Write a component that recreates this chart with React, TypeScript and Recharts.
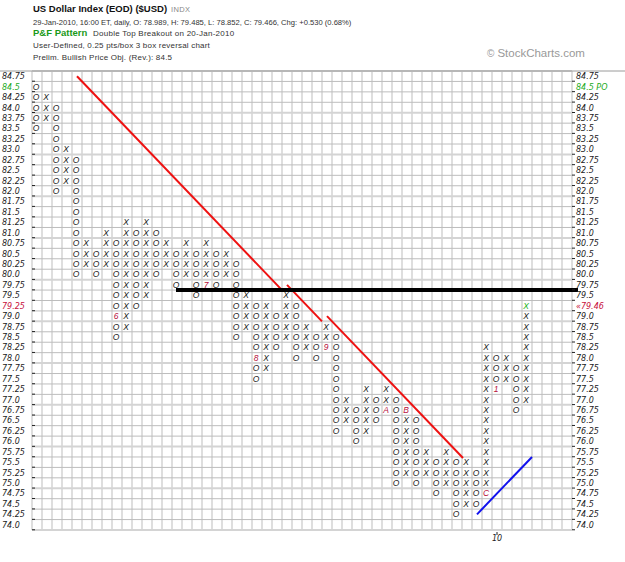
import { ScatterChart, Scatter, XAxis, YAxis, ReferenceLine } from "recharts"

// P&F columns, left to right (0.25 pts/box, 3 box reversal)
const colTypes = "OXOXOXOXOXOXOXOXOXOXOXOXOXOXOXOXOXOXOXOXOXOXOXOXOX".split("")
const colLows = [
  83.5, 83.75, 82.0, 82.25, 80.0, 80.25, 80.0, 80.25, 78.5, 78.75,
  79.25, 79.5, 80.0, 80.25, 79.75, 80.0, 79.5, 79.75, 79.75, 80.0,
  78.5, 78.75, 77.5, 77.75, 78.25, 78.5, 78.0, 78.25, 78.0, 78.25,
  76.25, 76.5, 76.0, 76.25, 76.5, 76.75, 75.0, 75.25, 75.0, 75.25,
  74.75, 75.0, 74.25, 74.5, 74.5, 74.75, 77.25, 77.5, 76.75, 77.0,
]
const colHighs = [
  84.5, 84.25, 84.0, 83.0, 82.75, 80.75, 80.5, 81.0, 80.75, 81.25,
  81.0, 81.25, 81.0, 80.75, 80.5, 80.75, 80.5, 80.75, 80.5, 80.5,
  80.25, 79.5, 79.25, 79.25, 79.0, 79.5, 79.25, 78.75, 78.5, 78.75,
  78.5, 77.0, 76.75, 77.25, 77.0, 77.25, 77.0, 76.75, 76.5, 75.75,
  75.5, 75.75, 75.5, 75.5, 75.25, 78.25, 78.0, 78.0, 77.75, 79.25,
]

// month markers (1..9, A, B, C) that replace a box
const markerCols = [8, 17, 22, 29, 35, 37, 45, 46]
const markerPrices = [79.0, 79.75, 78.0, 78.25, 76.75, 76.75, 74.75, 77.25]
const markerLabels = ["6", "7", "8", "9", "A", "B", "C", "1"]

// latest box (shown in green)
const lastCol = 49
const lastPrice = 79.25

const priceTicks = [
  74.0, 74.25, 74.5, 74.75, 75.0, 75.25, 75.5, 75.75, 76.0, 76.25, 76.5,
  76.75, 77.0, 77.25, 77.5, 77.75, 78.0, 78.25, 78.5, 78.75, 79.0, 79.25,
  79.5, 79.75, 80.0, 80.25, 80.5, 80.75, 81.0, 81.25, 81.5, 81.75, 82.0,
  82.25, 82.5, 82.75, 83.0, 83.25, 83.5, 83.75, 84.0, 84.25, 84.5, 84.75,
]
const yearCols = [46]
const yearLabels = ["10"]

const priceObjective = 84.5
const lastCloseRow = 79.25
const lastClose = "79.46"

// trend lines: [col, price] end points
const redLines = [
  [[4, 84.75], [24.5, 79.625]],
  [[25, 79.75], [28.5, 78.875]],
  [[29, 79.0], [42.6, 75.6]],
]
const blueLine = [[44, 74.25], [49.5, 75.625]]
const breakoutLine = { from: 13.9, to: 54.1, price: 79.625 }

const BOX = 0.25
const NCOLS = 54
const PMIN = 73.875
const PMAX = 84.875

const boxes: { x: number; y: number; s: string; c: string }[] = []
colTypes.forEach((t, i) => {
  const n = Math.round((colHighs[i] - colLows[i]) / BOX)
  for (let k = 0; k <= n; k++) {
    const p = colLows[i] + k * BOX
    const m = markerCols.findIndex((c, j) => c === i && markerPrices[j] === p)
    let s = t
    let c = "#222"
    if (m >= 0) {
      s = markerLabels[m]
      c = "#b8103c"
    } else if (i === lastCol && p === lastPrice) {
      c = "#22b422"
    }
    boxes.push({ x: i, y: p, s, c })
  }
})

const fmt = (v: number) => (Math.round(v * 4) % 2 === 0 ? v.toFixed(1) : v.toFixed(2))

const vGrid = Array.from({ length: NCOLS + 1 }, (_, i) => i - 0.5)
const hGrid = Array.from({ length: 45 }, (_, i) => PMIN + i * BOX)

// draws the price label on both sides of the grid
const PriceTick = (props: any) => {
  const { y, payload } = props
  const v = payload.value
  let fill = "#222"
  let right = fmt(v)
  if (v === priceObjective) {
    fill = "#22aa22"
    right = fmt(v) + " PO"
  }
  if (v === lastCloseRow) {
    fill = "#c8103c"
    right = "\u00ab" + lastClose
  }
  const style = { fontSize: 8, fontStyle: "italic", fontFamily: "DejaVu Sans" }
  return (
    <g>
      <text x={2} y={y + 3} {...style} fill={fill}>
        {fmt(v)}
      </text>
      <line x1={32} x2={35} y1={y + 5} y2={y + 5} stroke="#222" />
      <text x={576} y={y + 3} {...style} fill={fill}>
        {right}
      </text>
      <line x1={572} x2={575} y1={y + 5} y2={y + 5} stroke="#222" />
    </g>
  )
}

const YearTick = (props: any) => {
  const { x, y, payload } = props
  const i = yearCols.indexOf(payload.value)
  return (
    <g>
      <line x1={x} x2={x} y1={y - 6} y2={y - 3} stroke="#222" />
      <text x={x} y={y + 3} textAnchor="middle" fontSize={8} fontStyle="italic" fontFamily="DejaVu Sans" fill="#222">
        {yearLabels[i]}
      </text>
    </g>
  )
}

const BoxShape = (props: any) => {
  const { cx, cy, payload } = props
  return (
    <text x={cx - 1} y={cy + 3} textAnchor="middle" fontSize={8.5} fontStyle="italic" fontFamily="Liberation Sans" fill={payload.c}>
      {payload.s}
    </text>
  )
}

export default function App() {
  return (
    <div style={{ position: "absolute", left: 0, top: 0, width: 625, height: 562, background: "#fff", fontFamily: "'Liberation Sans', Arial, sans-serif" }}>
      <div style={{ position: "absolute", left: 0, top: 0 }}>
        <ScatterChart width={625} height={562} margin={{ top: 71, right: 53, bottom: 0, left: 0 }}>
          <XAxis type="number" dataKey="x" domain={[-0.5, NCOLS - 0.5]} ticks={yearCols} height={32} axisLine={false} tickLine={false} tick={<YearTick />} />
          <YAxis yAxisId="left" type="number" dataKey="y" domain={[PMIN, PMAX]} ticks={priceTicks} width={32} axisLine={false} tickLine={false} tick={<PriceTick />} interval={0} />

          {/* grid */}
          {vGrid.map((x) => (
            <ReferenceLine key={"v" + x} yAxisId="left" x={x} stroke="#bdbdbd" strokeWidth={1} />
          ))}
          {hGrid.map((y) => (
            <ReferenceLine
              key={"h" + y}
              yAxisId="left"
              y={y}
              stroke={Math.abs((y + 0.125) % 1) < 1e-9 ? "#d4d4d4" : "#bdbdbd"}
              strokeWidth={Math.abs((y + 0.125) % 1) < 1e-9 ? 2 : 1}
            />
          ))}
          <ReferenceLine
            yAxisId="left"
            segment={[{ x: -3.7, y: PMAX }, { x: 58.8, y: PMAX }]}
            stroke="#9a9a9a"
            ifOverflow="visible"
          />

          <Scatter yAxisId="left" data={boxes} shape={<BoxShape />} isAnimationActive={false} />

          {redLines.map((l, i) => (
            <ReferenceLine
              key={"r" + i}
              yAxisId="left"
              segment={[{ x: l[0][0], y: l[0][1] }, { x: l[1][0], y: l[1][1] }]}
              stroke="#ee1111"
              strokeWidth={2}
            />
          ))}
          <ReferenceLine
            yAxisId="left"
            segment={[{ x: blueLine[0][0], y: blueLine[0][1] }, { x: blueLine[1][0], y: blueLine[1][1] }]}
            stroke="#1111ee"
            strokeWidth={2}
          />
          <ReferenceLine
            yAxisId="left"
            segment={[{ x: breakoutLine.from, y: breakoutLine.price }, { x: breakoutLine.to, y: breakoutLine.price }]}
            stroke="#000"
            strokeWidth={4}
            ifOverflow="visible"
          />
        </ScatterChart>
      </div>
      <svg width={625} height={68} style={{ position: "absolute", left: 0, top: 0 }}>
        <text x={33} y={12} fontSize={9.5} fontWeight="bold" fill="#111">US Dollar Index (EOD) ($USD)</text>
        <text x={171} y={12} fontSize={7.5} fill="#888" letterSpacing={0.4}>INDX</text>
        <text x={33} y={24.5} fontSize={7.6} fill="#333">
          29-Jan-2010, 16:00 ET, daily, O: 78.989, H: 79.485, L: 78.852, C: 79.466, Chg: +0.530 (0.68%)
        </text>
        <text x={33} y={36} fontSize={9.5} fontWeight="bold" fill="#1a9a1a">P&amp;F Pattern</text>
        <text x={93} y={36} fontSize={8} fill="#333" letterSpacing={0.25}>Double Top Breakout on 20-Jan-2010</text>
        <text x={33} y={47.5} fontSize={8} fill="#333" letterSpacing={0.2}>User-Defined, 0.25 pts/box 3 box reversal chart</text>
        <text x={33} y={60} fontSize={8} fill="#333" letterSpacing={0.2}>Prelim. Bullish Price Obj. (Rev.): 84.5</text>
        <text x={487} y={57} fontSize={11.5} fill="#999">
          <tspan fontSize={10}>{"\u00a9"}</tspan>
          <tspan dx={3}>StockCharts.com</tspan>
        </text>
      </svg>
    </div>
  )
}
